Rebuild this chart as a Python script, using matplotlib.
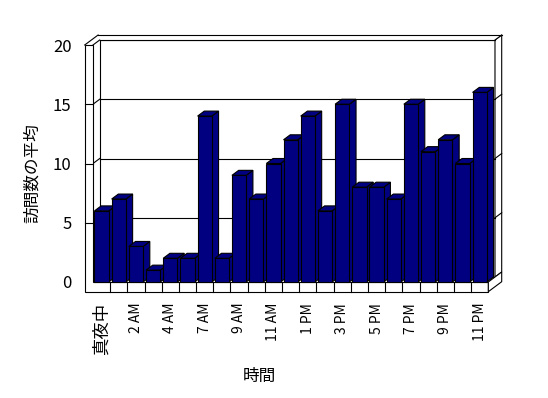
import numpy as np
import matplotlib
matplotlib.use('Agg')
import matplotlib.pyplot as plt
from matplotlib.patches import Polygon
from matplotlib.lines import Line2D
from matplotlib.transforms import IdentityTransform

plt.rcParams['font.family'] = ['Noto Sans CJK JP', 'DejaVu Sans']

# average visits per hour of day (5/6 AM share one slot in the source)
hours = ['真夜中', '1 AM', '2 AM', '3 AM', '4 AM', '5 AM', '7 AM', '8 AM', '9 AM',
         '10 AM', '11 AM', '正午', '1 PM', '2 PM', '3 PM', '4 PM', '5 PM', '6 PM',
         '7 PM', '8 PM', '9 PM', '10 PM', '11 PM']
visits = [6, 7, 3, 1, 2, 2, 14, 2, 9, 7, 10, 12, 14, 6, 15, 8, 8, 7, 15, 11, 12, 10, 16]
y_ticks = [0, 5, 10, 15, 20]

W, H = 548, 398
navy = '#000080'

fig = plt.figure(figsize=(W / 100, H / 100), dpi=100)
ax = fig.add_axes([93 / W, (H - 282) / H, (488.3 - 93) / W, (282 - 45) / H])
n = len(visits)
x0, x1 = -0.5, n - 0.5
ax.set_xlim(x0, x1)
ax.set_ylim(0, 20)
for s in ax.spines.values():
    s.set_visible(False)
ax.patch.set_visible(False)

D = np.array([6.7, 5.0])   # depth step in pixels
WALL = 8.3                 # left wall thickness, px
FLOOR = 9.7                # floor thickness, px


def px(x, y, k=0.0, ox=0.0, oy=0.0):
    p = ax.transData.transform((x, y))
    return (p[0] + k * D[0] + ox, p[1] + k * D[1] + oy)


def poly(pts, fc='white', ec='black', z=1, lw=0.8):
    ax.add_patch(Polygon(pts, closed=True, facecolor=fc, edgecolor=ec, linewidth=lw,
                         transform=IdentityTransform(), clip_on=False, zorder=z))


def seg(p, q, z=2):
    ax.add_line(Line2D([p[0], q[0]], [p[1], q[1]], color='black', lw=0.8,
                       transform=IdentityTransform(), clip_on=False, zorder=z))


# back wall and its slab
poly([px(x0, 0, 1), px(x1, 0, 1), px(x1, 20, 1), px(x0, 20, 1)], z=1)
poly([px(x1, 20, 1), px(x1, 20, 2), px(x1, 0, 2), px(x1, 0, 1)], z=1)
top = [px(x0, 20, 0, -WALL), px(x0, 20, 0), px(x0, 20, 1), px(x1, 20, 1),
       px(x1, 20, 2), px(x0, 20, 2, -WALL)]
poly(top, ec='none', z=1)
for a, b in [(1, 2), (2, 3), (3, 4), (4, 5), (5, 0)]:
    seg(top[a], top[b])

# left wall + floor front
poly([px(x0, 20, 0, -WALL), px(x0, 20), px(x0, 0), px(x1, 0), px(x1, 0, 0, 0, -FLOOR),
      px(x0, 0, 0, -WALL, -FLOOR)], z=3)
poly([px(x1, 0), px(x1, 0, 0, 0, -FLOOR), px(x1, 0, 2, 0, -FLOOR), px(x1, 0, 2)], z=3)
for i in range(n - 1):
    seg(px(i + 0.5, 0), px(i + 0.5, 0, 0, 0, -FLOOR), z=4)

# gridlines
for t in y_ticks[1:-1]:
    seg(px(x0, t, 0, -WALL), px(x0, t), z=4)
    seg(px(x0, t), px(x0, t, 1))
    seg(px(x0, t, 1), px(x1, t, 1))
    seg(px(x1, t, 1), px(x1, t, 2))

# bars
bw = 0.83
for i, v in enumerate(visits):
    l, r = i - bw / 2, i + bw / 2
    poly([px(r, 0), px(r, 0, 1), px(r, v, 1), px(r, v)], fc=navy, z=10 + 2 * i)
    poly([px(l, v), px(r, v), px(r, v, 1), px(l, v, 1)], fc=navy, z=10 + 2 * i)
    ax.bar(i, v, width=bw, color=navy, edgecolor='black', linewidth=0.8,
           zorder=11 + 2 * i, clip_on=False)

ax.set_yticks(y_ticks)
ax.tick_params(axis='y', length=0, pad=15.5, labelsize=12)
ax.set_xticks(range(0, n, 2))
ax.set_xticklabels(hours[::2], rotation=90)
ax.tick_params(axis='x', length=0, pad=15)
for lab in ax.get_xticklabels():
    lab.set_fontsize(12.5 if lab.get_text() == '真夜中' else 10)

fig.text(32.5 / W, 1 - 173 / H, '訪問数の平均', rotation=90, fontsize=12,
         ha='center', va='center')
fig.text(259 / W, 1 - 376 / H, '時間', fontsize=12, ha='center', va='center')

fig.savefig('out.png', dpi=100)
